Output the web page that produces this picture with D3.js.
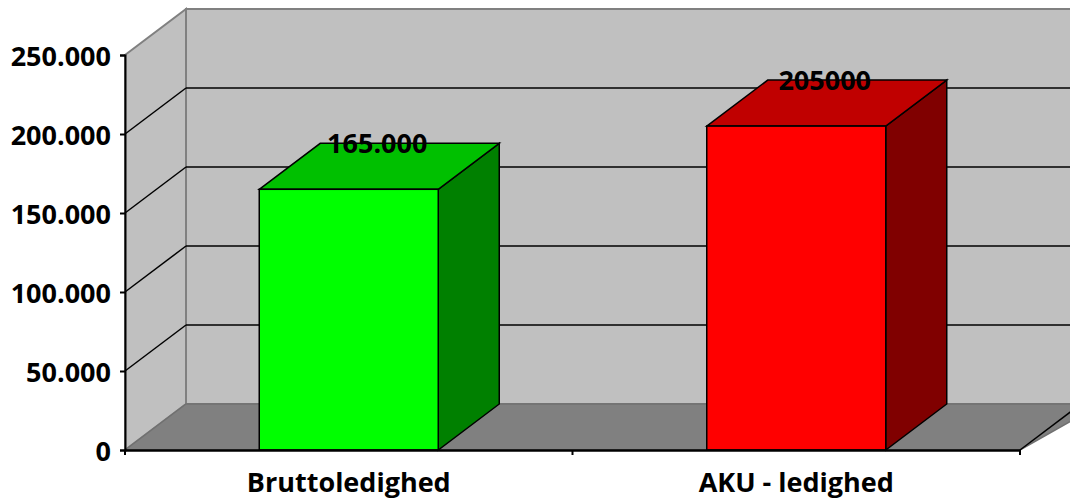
<!DOCTYPE html>
<html>
<head>
<meta charset="utf-8">
<script src="https://cdnjs.cloudflare.com/ajax/libs/d3/7.8.5/d3.min.js"></script>
<style>
  html, body { margin: 0; padding: 0; background: #fff; }
  svg text { font-family: "Open Sans", sans-serif; font-weight: bold; fill: #000; }
</style>
</head>
<body>
<div class="container"></div>
<script>
// chart data
const categories = ["Bruttoledighed", "AKU - ledighed"];
const values = [165000, 205000];
const valueLabels = ["165.000", "205000"];
const yTickValues = [0, 50000, 100000, 150000, 200000, 250000];
const yTickLabels = ["0", "50.000", "100.000", "150.000", "200.000", "250.000"];

const w = 1070;
const h = 501;
const padding = {left: 125, top: 55, right: 50, bottom: 51};
const depth = {dx: 61, dy: 46}; // 3d offset of back wall
const frontFill = ["#00ff00", "#ff0000"];
const topFill = ["#00c000", "#c00000"];
const sideFill = ["#008000", "#800000"];
const fontSize = "27px";

const xScale = d3.scaleBand()
                 .domain(categories)
                 .range([padding.left, w - padding.right])
                 .padding(0);
const yScale = d3.scaleLinear()
                 .domain([0, 250000])
                 .range([h - padding.bottom, padding.top]);

const svg = d3.select(".container")
              .append("svg")
              .attr("width", w)
              .attr("height", h);

const x0 = padding.left;
const x1 = w - padding.right;
const yb = yScale(0);
const yt = yScale(250000);
const line = (pts) => "M" + pts.map(p => p.join(",")).join("L") + "Z";

// back wall
svg.append("path")
   .attr("d", line([[x0 + depth.dx, yt - depth.dy], [x1 + depth.dx + 20, yt - depth.dy],
                    [x1 + depth.dx + 20, yb - depth.dy], [x0 + depth.dx, yb - depth.dy]]))
   .attr("fill", "#c0c0c0").attr("stroke", "#808080").attr("stroke-width", 2);
// left wall
svg.append("path")
   .attr("d", line([[x0, yt], [x0 + depth.dx, yt - depth.dy], [x0 + depth.dx, yb - depth.dy], [x0, yb]]))
   .attr("fill", "#c0c0c0").attr("stroke", "#808080").attr("stroke-width", 2);
// floor
svg.append("path")
   .attr("d", line([[x0, yb], [x0 + depth.dx, yb - depth.dy], [x1 + depth.dx + 20, yb - depth.dy], [x1, yb]]))
   .attr("fill", "#808080").attr("stroke", "#707070").attr("stroke-width", 1.5);
svg.append("line")
   .attr("x1", x1).attr("y1", yb).attr("x2", x1 + depth.dx).attr("y2", yb - depth.dy)
   .attr("stroke", "#000").attr("stroke-width", 1.5);

// gridlines
const gridVals = yTickValues.filter(v => v > 0 && v < 250000);
svg.selectAll(".grid-back")
   .data(gridVals)
   .enter()
   .append("line")
   .attr("x1", x0 + depth.dx).attr("x2", x1 + depth.dx + 20)
   .attr("y1", d => yScale(d) - depth.dy).attr("y2", d => yScale(d) - depth.dy)
   .attr("stroke", "#000").attr("stroke-width", 1.5);
svg.selectAll(".grid-side")
   .data(gridVals)
   .enter()
   .append("line")
   .attr("x1", x0).attr("x2", x0 + depth.dx)
   .attr("y1", d => yScale(d)).attr("y2", d => yScale(d) - depth.dy)
   .attr("stroke", "#000").attr("stroke-width", 1.5);

// bars
const barW = xScale.bandwidth() * 0.4;
const bars = svg.selectAll(".bar")
                .data(values)
                .enter()
                .append("g");
bars.append("path") // side
    .attr("d", (d, i) => {
      const bx = xScale(categories[i]) + (xScale.bandwidth() - barW) / 2 + barW;
      return line([[bx, yScale(d)], [bx + depth.dx, yScale(d) - depth.dy], [bx + depth.dx, yb - depth.dy], [bx, yb]]);
    })
    .attr("fill", (d, i) => sideFill[i]).attr("stroke", "#000").attr("stroke-width", 1.5);
bars.append("path") // top
    .attr("d", (d, i) => {
      const bx = xScale(categories[i]) + (xScale.bandwidth() - barW) / 2;
      const by = yScale(d);
      return line([[bx, by], [bx + depth.dx, by - depth.dy], [bx + barW + depth.dx, by - depth.dy], [bx + barW, by]]);
    })
    .attr("fill", (d, i) => topFill[i]).attr("stroke", "#000").attr("stroke-width", 1.5);
bars.append("rect") // front
    .attr("x", (d, i) => xScale(categories[i]) + (xScale.bandwidth() - barW) / 2)
    .attr("y", d => yScale(d))
    .attr("width", barW)
    .attr("height", d => yb - yScale(d))
    .attr("fill", (d, i) => frontFill[i]).attr("stroke", "#000").attr("stroke-width", 1.5);
bars.append("text")
    .attr("x", (d, i) => xScale(categories[i]) + xScale.bandwidth() / 2 + depth.dx / 2 - 2)
    .attr("y", d => yScale(d) - depth.dy + 10)
    .attr("text-anchor", "middle")
    .style("font-size", fontSize)
    .text((d, i) => valueLabels[i]);

// y axis
const yAxis = d3.axisLeft(yScale)
                .tickValues(yTickValues)
                .tickSize(5)
                .tickFormat((d, i) => yTickLabels[i]);
const gy = svg.append("g")
              .attr("transform", "translate(" + x0 + ",0)")
              .call(yAxis);
gy.select(".domain").attr("stroke", "#000").attr("stroke-width", 2);
gy.selectAll(".tick line").attr("stroke", "#000").attr("stroke-width", 2);
gy.selectAll(".tick text")
  .attr("x", -14)
  .attr("dy", "0.37em")
  .style("font-size", fontSize)
  .style("font-family", "'Open Sans', sans-serif")
  .style("font-weight", "bold");

// x axis
const xAxis = d3.axisBottom(xScale).tickSize(0);
const gx = svg.append("g")
              .attr("transform", "translate(0," + yb + ")")
              .call(xAxis);
gx.select(".domain").attr("stroke", "#000").attr("stroke-width", 2.5);
gx.selectAll(".tick text")
  .attr("y", 42)
  .attr("dy", 0)
  .style("font-size", fontSize)
  .style("font-family", "'Open Sans', sans-serif")
  .style("font-weight", "bold");
svg.selectAll(".xtick")
   .data(categories.map(c => xScale(c)).concat([x1]))
   .enter()
   .append("line")
   .attr("x1", d => d).attr("x2", d => d)
   .attr("y1", yb).attr("y2", yb + 5)
   .attr("stroke", "#000").attr("stroke-width", 2);
</script>
</body>
</html>
